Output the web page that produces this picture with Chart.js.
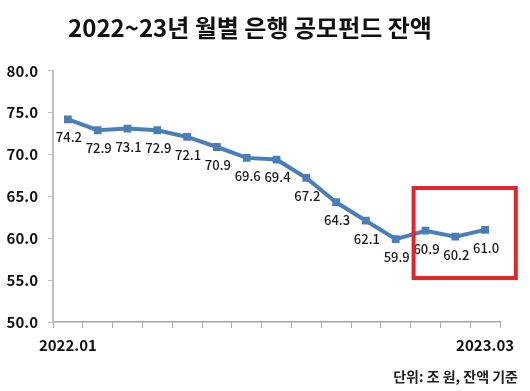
<!DOCTYPE html>
<html>
<head>
<meta charset="utf-8">
<script src="https://cdn.jsdelivr.net/npm/chart.js@4"></script>
<style>
  html, body { margin: 0; padding: 0; background: #fff; }
  #wrap { width: 530px; height: 391px; }
</style>
</head>
<body>
<div id="wrap"><canvas id="fundChart"></canvas></div>
<script>
const months = ["2022.01", "2022.02", "2022.03", "2022.04", "2022.05", "2022.06", "2022.07",
  "2022.08", "2022.09", "2022.10", "2022.11", "2022.12", "2023.01", "2023.02", "2023.03"];
const balance = [74.2, 72.9, 73.1, 72.9, 72.1, 70.9, 69.6, 69.4, 67.2, 64.3, 62.1, 59.9, 60.9, 60.2, 61.0];
const yTicks = [50, 55, 60, 65, 70, 75, 80];

// red box around the last three months (category index / value range)
const boxFrom = 11.6, boxTo = 15.03;
const boxLow = 55.25, boxHigh = 66.0;

const FONT = "'Noto Sans CJK KR', 'Noto Sans', sans-serif";

/* data labels under each point */
const valueLabels = {
  id: "valueLabels",
  afterDatasetsDraw(chart) {
    const ctx = chart.ctx;
    const meta = chart.getDatasetMeta(0);
    ctx.save();
    ctx.font = "500 13px " + FONT;
    ctx.fillStyle = "#1a1a1a";
    ctx.textAlign = "center";
    ctx.textBaseline = "middle";
    meta.data.forEach((pt, i) => {
      ctx.fillText(balance[i].toFixed(1), pt.x + 1, pt.y + 18);
    });
    ctx.restore();
  }
};

/* highlight box + unit note */
const extras = {
  id: "extras",
  afterDraw(chart) {
    const ctx = chart.ctx;
    const x = chart.scales.x, y = chart.scales.y;
    const l = x.getPixelForValue(boxFrom), r = x.getPixelForValue(boxTo);
    const t = y.getPixelForValue(boxHigh), b = y.getPixelForValue(boxLow);
    ctx.save();
    ctx.strokeStyle = "#e3242b";
    ctx.lineWidth = 4;
    ctx.strokeRect(l, t, r - l, b - t);

    ctx.font = "bold 14px " + FONT;
    ctx.fillStyle = "#222";
    ctx.textAlign = "right";
    ctx.textBaseline = "middle";
    ctx.fillText("단위: 조 원, 잔액 기준", 518, 377);
    ctx.restore();
  }
};

new Chart(document.getElementById("fundChart"), {
  type: "line",
  data: {
    labels: months,
    datasets: [{
      data: balance,
      borderColor: "#4a7ebb",
      backgroundColor: "#4a7ebb",
      borderWidth: 4,
      pointStyle: "rect",
      pointRadius: 5.5,
      pointBorderWidth: 0,
      tension: 0
    }]
  },
  options: {
    responsive: true,
    maintainAspectRatio: false,
    animation: false,
    layout: { padding: { left: 0, right: 30, top: 0, bottom: 35 } },
    plugins: {
      legend: { display: false },
      tooltip: { enabled: false },
      title: {
        display: true,
        text: "2022~23년 월별 은행 공모펀드 잔액",
        color: "#111",
        font: { family: FONT, size: 24, weight: "bold" },
        padding: { top: 13, bottom: 29 }
      }
    },
    scales: {
      x: {
        offset: true,
        afterFit(scale) { scale.height = 34; },
        grid: { offset: true, drawOnChartArea: false, tickLength: 6, color: "#a6a6a6" },
        border: { color: "#a6a6a6", width: 1.5 },
        ticks: {
          autoSkip: false,
          maxRotation: 0,
          padding: 8,
          color: "#111",
          font: { family: FONT, size: 15, weight: "bold" },
          callback: (v, i) => (i === 0 || i === months.length - 1) ? months[i] : ""
        }
      },
      y: {
        min: yTicks[0],
        max: yTicks[yTicks.length - 1],
        afterFit(scale) { scale.width = 53; },
        afterBuildTicks(scale) { scale.ticks = yTicks.map(v => ({ value: v })); },
        grid: { drawOnChartArea: false, tickLength: 5, color: "#bfbfbf" },
        border: { color: "#bfbfbf", width: 2 },
        ticks: {
          padding: 10,
          color: "#111",
          font: { family: FONT, size: 15, weight: "bold" },
          callback: v => v.toFixed(1)
        }
      }
    }
  },
  plugins: [valueLabels, extras]
});
</script>
</body>
</html>
